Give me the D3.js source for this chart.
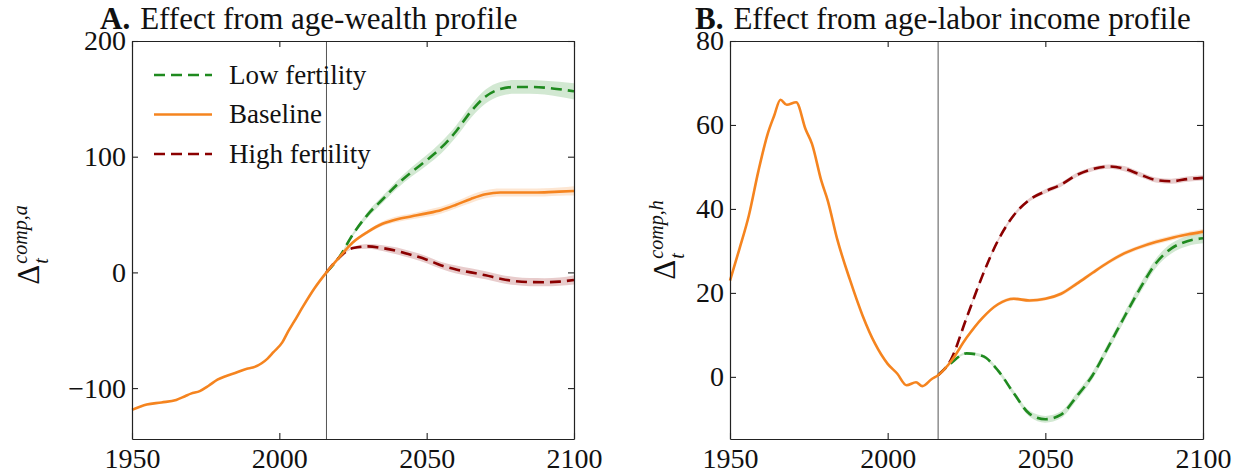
<!DOCTYPE html>
<html>
<head>
<meta charset="utf-8">
<title>Composition effects</title>
<script src="https://d3js.org/d3.v7.min.js"></script>
<style>
  body { margin: 0; background: #fff; }
  text { font-family: "Liberation Serif", "DejaVu Serif", serif; fill: #111; }
</style>
</head>
<body>
<script>
// ---- data ----
var seriesNames = ["Low fertility", "Baseline", "High fertility"];
var xTicks = [1950, 2000, 2050, 2100];
var yTicksA = [-100, 0, 100, 200];
var yTicksB = [0, 20, 40, 60, 80];
var lastObsYear = 2016;

// historical part of the baseline
var histYearsA = [1950, 1955, 1960, 1965, 1968, 1970, 1973, 1976, 1979, 1982, 1985, 1989, 1991, 1994, 1996, 1998, 2001, 2003, 2005, 2008, 2012, 2016];
var histBaseA  = [-118.8, -114.2, -112.4, -110.2, -107, -104.8, -102.6, -98, -92.7, -89.5, -87, -83.2, -82.3, -78.5, -74.5, -69, -60.5, -51, -42.6, -29.6, -13.5, 0];

var histYearsB = [1950, 1953, 1956, 1959, 1962, 1964, 1966, 1968, 1971, 1974, 1976, 1979, 1981, 1984, 1988, 1992, 1996, 2000, 2003, 2006, 2009, 2011, 2014, 2016];
var histBaseB  = [22.9, 30.5, 38.5, 49, 58, 62.2, 66, 64.8, 65.4, 58.9, 55.5, 46.6, 42, 32.8, 23.2, 14.7, 7.9, 3.1, 0.8, -2, -1.3, -2.2, -0.5, 0.4];

// projections
var projYears = [2016, 2020, 2025, 2030, 2035, 2040, 2045, 2050, 2055, 2060, 2065, 2070, 2075, 2080, 2085, 2090, 2095, 2100];

var lowA  = [0, 12, 33, 50, 63, 76, 87, 97, 108, 122, 139, 152, 158.5, 160.3, 160.3, 159.7, 158.3, 156.5];
var baseA = [0, 12, 26, 35, 42, 46, 48.5, 51, 54, 58.5, 63.5, 67.5, 69, 69, 69, 69.2, 69.8, 70.4];
var highA = [0, 12, 21, 22.5, 21, 18.5, 15, 11, 6, 2.5, 0, -2.5, -5.5, -7.5, -8.4, -8.5, -8, -6.5];
var lowBandA  = [0, 0.5, 1.5, 2.5, 3, 3.5, 4, 4.5, 5, 5, 5.5, 6, 6, 6, 6, 6, 6.5, 7];
var baseBandA = [0, 0.5, 1, 1.5, 2, 2.5, 2.5, 3, 3, 3, 3.5, 3.5, 3.5, 3.5, 3.5, 3.5, 3.5, 4];
var highBandA = [0, 0.5, 1, 2, 2.5, 3, 3, 3, 3, 3.5, 3.5, 3.5, 3.5, 3.5, 3.5, 3.5, 3.5, 4];

var lowB  = [0.4, 3.2, 5.6, 5, 1.5, -3.9, -8.8, -10.1, -9, -4.6, 0.4, 7.2, 14.2, 21, 27, 30.6, 32.3, 33];
var baseB = [0.4, 3.6, 9.3, 14, 17.3, 18.6, 18.2, 18.6, 19.8, 22.2, 24.8, 27.3, 29.4, 30.9, 32.1, 33.1, 33.9, 34.6];
var highB = [0.4, 4, 14, 24, 32.5, 38.5, 42.2, 44.2, 45.8, 48.1, 49.5, 50.1, 49.6, 48.2, 46.9, 46.6, 47.1, 47.4];
var lowBandB  = [0, 0.2, 0.3, 0.4, 0.5, 0.6, 0.7, 0.8, 0.8, 0.9, 0.9, 1, 1, 1.1, 1.1, 1.2, 1.2, 1.2];
var baseBandB = [0, 0.2, 0.3, 0.3, 0.4, 0.4, 0.4, 0.4, 0.5, 0.5, 0.5, 0.5, 0.5, 0.5, 0.6, 0.6, 0.6, 0.6];
var highBandB = [0, 0.2, 0.3, 0.3, 0.4, 0.4, 0.4, 0.5, 0.5, 0.5, 0.5, 0.5, 0.6, 0.6, 0.6, 0.6, 0.6, 0.6];

// ---- drawing ----
var w = 1250, h = 475;
var green = "#1f8a1f", orange = "#f5841f", darkred = "#8b0000";
var dashes = "11,6";

var svg = d3.select("body").append("svg")
  .attr("width", w)
  .attr("height", h);

function drawPanel(p) {
  var x = d3.scaleLinear().domain([1950, 2100]).range([p.left, p.right]);
  var y = d3.scaleLinear().domain(p.yDomain).range([p.bottom, p.top]);
  var g = svg.append("g");

  var band = d3.area()
    .x(function(d) { return x(d[0]); })
    .y0(function(d) { return y(d[1] - d[2]); })
    .y1(function(d) { return y(d[1] + d[2]); })
    .curve(d3.curveMonotoneX);
  var line = d3.line()
    .x(function(d) { return x(d[0]); })
    .y(function(d) { return y(d[1]); })
    .curve(d3.curveMonotoneX);

  var proj = [
    { v: p.low,  b: p.lowBand,  c: green,   dash: dashes },
    { v: p.base, b: p.baseBand, c: orange,  dash: null },
    { v: p.high, b: p.highBand, c: darkred, dash: dashes }
  ];

  // vertical line at the last observed year
  g.append("line")
    .attr("x1", x(lastObsYear)).attr("x2", x(lastObsYear))
    .attr("y1", p.top).attr("y2", p.bottom)
    .attr("stroke", "#555").attr("stroke-width", 1);

  proj.forEach(function(s) {
    var pts = projYears.map(function(yr, i) { return [yr, s.v[i], s.b[i]]; });
    g.append("path").datum(pts)
      .attr("d", band)
      .attr("fill", s.c)
      .attr("fill-opacity", 0.2);
  });

  // historical baseline + projected lines
  var hist = p.histYears.map(function(yr, i) { return [yr, p.histBase[i]]; });
  var baseFull = hist.concat(projYears.slice(1).map(function(yr, i) { return [yr, p.base[i + 1]]; }));

  [proj[0], proj[2]].forEach(function(s) {
    var pts = projYears.map(function(yr, i) { return [yr, s.v[i]]; });
    g.append("path").datum(pts)
      .attr("d", line)
      .attr("fill", "none")
      .attr("stroke", s.c)
      .attr("stroke-width", 2.6)
      .attr("stroke-dasharray", s.dash);
  });
  g.append("path").datum(baseFull)
    .attr("d", line)
    .attr("fill", "none")
    .attr("stroke", orange)
    .attr("stroke-width", 2.6);

  // axes, ticks inward on all four sides
  var tickLen = -6;
  var fmt = function(d) { return d < 0 ? "\u2212" + Math.abs(d) : d; };
  var axB = g.append("g").attr("transform", "translate(0," + p.bottom + ")")
    .call(d3.axisBottom(x).tickValues(xTicks).tickFormat(d3.format("d")).tickSizeInner(tickLen).tickSizeOuter(0).tickPadding(9));
  var axT = g.append("g").attr("transform", "translate(0," + p.top + ")")
    .call(d3.axisTop(x).tickValues(xTicks).tickFormat("").tickSizeInner(tickLen).tickSizeOuter(0));
  var axL = g.append("g").attr("transform", "translate(" + p.left + ",0)")
    .call(d3.axisLeft(y).tickValues(p.yTicks).tickFormat(fmt).tickSizeInner(tickLen).tickSizeOuter(0).tickPadding(6));
  var axR = g.append("g").attr("transform", "translate(" + p.right + ",0)")
    .call(d3.axisRight(y).tickValues(p.yTicks).tickFormat("").tickSizeInner(tickLen).tickSizeOuter(0));

  [axB, axT, axL, axR].forEach(function(a) {
    a.select(".domain").attr("stroke", "#222").attr("stroke-width", 1.2);
    a.selectAll(".tick line").attr("stroke", "#222").attr("stroke-width", 1.1);
    a.selectAll(".tick text")
      .attr("font-family", "Liberation Serif, serif")
      .attr("font-size", "28px")
      .attr("fill", "#111");
  });

  // title: bold tag followed by the plain title
  var tag = svg.append("text")
    .attr("x", p.titleX).attr("y", 29)
    .attr("font-size", "31px").attr("font-weight", "bold")
    .text(p.titleTag);
  var tagW = tag.node().getComputedTextLength();
  svg.append("text")
    .attr("x", p.titleX + tagW + 10).attr("y", 29)
    .attr("font-size", "31px")
    .text(p.title);

  // y label: Delta_t^{comp,x}
  var lab = svg.append("g")
    .attr("transform", "translate(" + p.labX + "," + p.labMid + ") rotate(-90)");
  var delta = lab.append("text").attr("font-size", "31px").text("\u0394");
  var dw = delta.node().getComputedTextLength();
  var sup = lab.append("text").attr("y", -12)
    .attr("font-size", "20px").attr("font-style", "italic").text(p.sup);
  var sub = lab.append("text").attr("y", 9)
    .attr("font-size", "20px").attr("font-style", "italic").text("t");
  var total = dw + 1 + Math.max(sup.node().getComputedTextLength(), sub.node().getComputedTextLength());
  delta.attr("x", -total / 2);
  sup.attr("x", -total / 2 + dw + 1);
  sub.attr("x", -total / 2 + dw + 1);

  return { x: x, y: y };
}

drawPanel({
  left: 132, right: 574, top: 41, bottom: 439,
  yDomain: [-144, 200], yTicks: yTicksA,
  histYears: histYearsA, histBase: histBaseA,
  low: lowA, base: baseA, high: highA,
  lowBand: lowBandA, baseBand: baseBandA, highBand: highBandA,
  titleTag: "A.", title: "Effect from age-wealth profile", titleX: 100,
  labX: 39, labMid: 245, sup: "comp,a"
});

drawPanel({
  left: 730, right: 1203, top: 41, bottom: 439,
  yDomain: [-14.8, 80], yTicks: yTicksB,
  histYears: histYearsB, histBase: histBaseB,
  low: lowB, base: baseB, high: highB,
  lowBand: lowBandB, baseBand: baseBandB, highBand: highBandB,
  titleTag: "B.", title: "Effect from age-labor income profile", titleX: 695,
  labX: 675, labMid: 240, sup: "comp,h"
});

// legend (panel A)
var legendColors = [green, orange, darkred];
var legendDash = [dashes, null, dashes];
var leg = svg.append("g");
seriesNames.forEach(function(name, i) {
  var yy = 75 + i * 39.5;
  leg.append("line")
    .attr("x1", 154).attr("x2", 212).attr("y1", yy).attr("y2", yy)
    .attr("stroke", legendColors[i]).attr("stroke-width", 2.6)
    .attr("stroke-dasharray", legendDash[i]);
  leg.append("text")
    .attr("x", 229).attr("y", yy).attr("dy", "0.33em")
    .attr("font-size", "27px")
    .text(name);
});
</script>
</body>
</html>
